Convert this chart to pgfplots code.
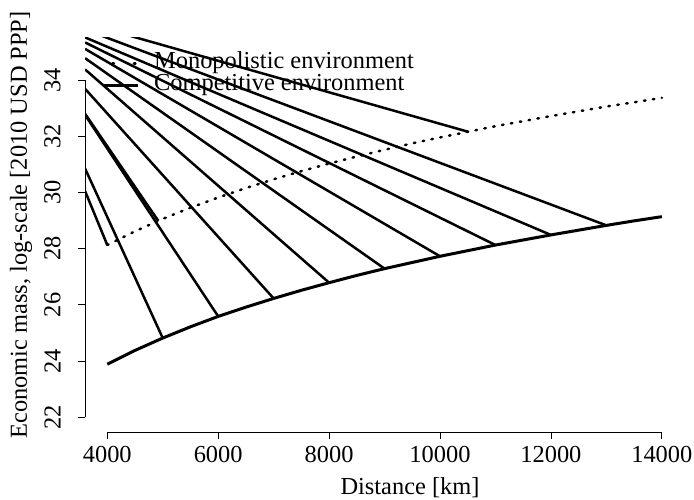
\documentclass[border=0pt]{standalone}
\usepackage{fontspec}
\setmainfont{Liberation Serif}
\usepackage{pgfplots}
\usepackage{pgfplotstable}
\pgfplotsset{compat=1.18}
\newcommand\ff{\fontsize{24.5}{26}\selectfont}

\pgfplotstableread{
x y
4000 23.89
4500 24.38
5000 24.82
5500 25.22
6000 25.59
6500 25.92
7000 26.23
7500 26.52
8000 26.79
8500 27.05
9000 27.29
9500 27.51
10000 27.73
10500 27.93
11000 28.13
11500 28.31
12000 28.49
12500 28.66
13000 28.83
13500 28.99
14000 29.14
}\comp

\pgfplotstableread{
x y
4000 28.13
4500 28.62
5000 29.06
5500 29.46
6000 29.82
6500 30.16
7000 30.47
7500 30.76
8000 31.03
8500 31.28
9000 31.52
9500 31.75
10000 31.96
10500 32.16
11000 32.36
11500 32.54
12000 32.72
12500 32.89
13000 33.06
13500 33.21
14000 33.37
}\mono

\begin{document}
\begin{tikzpicture}
\path[use as bounding box] (-85.1bp,-68.1bp) rectangle (608.9bp,431.9bp);
\begin{axis}[
  scale only axis, width=598.9bp, height=394.5bp,
  xmin=3600, xmax=14400, ymin=21.48, ymax=35.52,
  axis line style={draw=none},
  clip mode=individual,
  xtick={4000,6000,...,14000}, ytick={22,24,...,34},
  scaled ticks=false,
  tick align=outside, xtick pos=bottom, ytick pos=left,
  major tick length=7bp,
  tick style={black, line width=0.8bp},
  /pgf/number format/assume math mode=true,
  /pgf/number format/1000 sep={},
  tick label style={font=\ff},
  yticklabel style={rotate=90, anchor=south, yshift=14bp},
  xticklabel style={yshift=-4bp},
  xlabel={Distance [km]},
  ylabel={Economic mass, log-scale [2010 USD PPP]},
  label style={font=\ff},
  xlabel style={at={(axis description cs:0.5425,-0.142)}, anchor=center},
  ylabel style={at={(axis description cs:-0.107,0.5245)}, anchor=center},
  legend image code/.code={\draw[#1] (0bp,0bp) -- (35bp,0bp);},
  legend style={draw=none, fill=none, inner sep=0pt, outer sep=0pt,
    at={(axis description cs:0.0277,0.962)}, anchor=north west,
    column sep=15bp, row sep=0pt,
    nodes={inner sep=0pt, text height=16bp, text depth=6bp, font=\ff}},
  legend cell align=left,
  every axis plot/.append style={line width=2.5bp, black},
]
% straight segments (clipped at plot region)
\addplot[forget plot] coordinates {(3600,30.05) (4000,28.13)};
\addplot[forget plot] coordinates {(3600,32.80) (4920,28.99)};
\addplot[forget plot] coordinates {(3600,30.85) (5000,24.82)};
\addplot[forget plot] coordinates {(3600,32.76) (6000,25.59)};
\addplot[forget plot] coordinates {(3600,33.69) (7000,26.23)};
\addplot[forget plot] coordinates {(3600,34.38) (8000,26.79)};
\addplot[forget plot] coordinates {(3600,34.78) (9000,27.29)};
\addplot[forget plot] coordinates {(3600,35.11) (10000,27.73)};
\addplot[forget plot] coordinates {(3600,35.34) (11000,28.13)};
\addplot[forget plot] coordinates {(3600,35.52) (12000,28.49)};
\addplot[forget plot] coordinates {(3600,35.80) (13000,28.83)};
\addplot[forget plot] coordinates {(3600,36.03) (10510,32.16)};
% curves
\addplot[forget plot, line width=3bp] table[x=x,y=y] {\comp};
\addplot[forget plot, line cap=round, dash pattern=on 1.5bp off 7.5bp] table[x=x,y=y] {\mono};
% legend
\addlegendimage{black, line width=2.5bp, line cap=round, dash pattern=on 1.5bp off 20bp, dash phase=12bp}
\addlegendentry{Monopolistic environment}
\addlegendimage{black, line width=2.5bp}
\addlegendentry{Competitive environment}
% R-style axis lines spanning the ticks
\draw[line width=0.8bp] (axis cs:4000,21.48) -- (axis cs:14000,21.48);
\draw[line width=0.8bp] (axis cs:3600,22) -- (axis cs:3600,34);
\end{axis}
\end{tikzpicture}
\end{document}
